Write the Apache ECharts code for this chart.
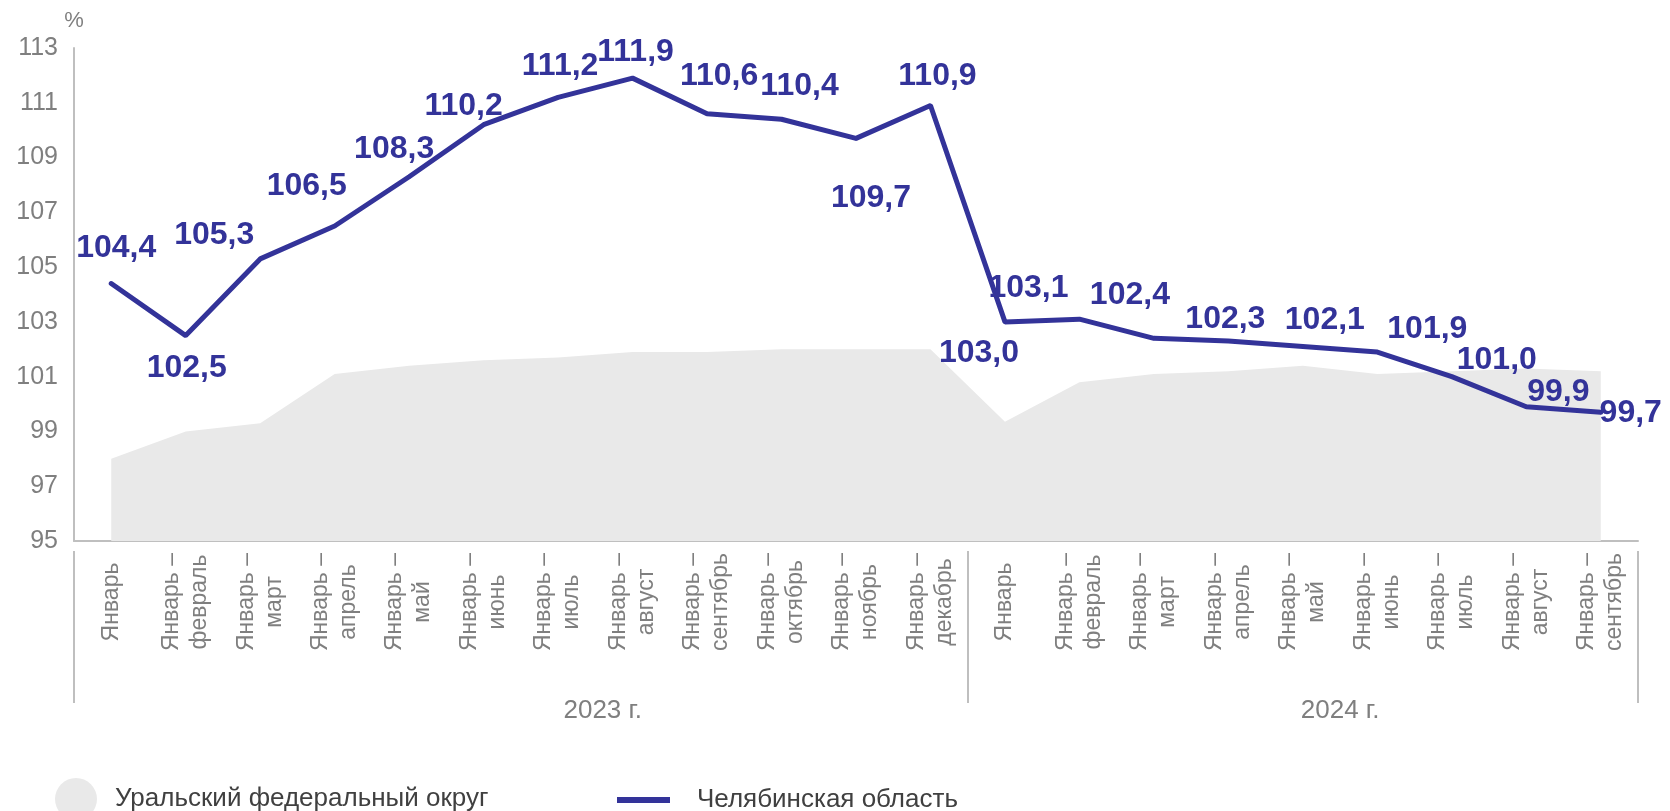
<!DOCTYPE html>
<html>
<head>
<meta charset="utf-8">
<script src="https://cdn.jsdelivr.net/npm/echarts@6.0.0/dist/echarts.min.js"></script>
<style>
  html, body { margin: 0; padding: 0; background: #fff; }
  #chart { width: 1670px; height: 811px; }
</style>
</head>
<body>
<div id="chart"></div>
<script>
// подписи периодов
const months = [
  'Январь', 'Январь –\nфевраль', 'Январь –\nмарт', 'Январь –\nапрель', 'Январь –\nмай', 'Январь –\nиюнь',
  'Январь –\nиюль', 'Январь –\nавгуст', 'Январь –\nсентябрь', 'Январь –\nоктябрь', 'Январь –\nноябрь', 'Январь –\nдекабрь',
  'Январь', 'Январь –\nфевраль', 'Январь –\nмарт', 'Январь –\nапрель', 'Январь –\nмай', 'Январь –\nиюнь',
  'Январь –\nиюль', 'Январь –\nавгуст', 'Январь –\nсентябрь'
]
const years = ['2023 г.', '2024 г.']
const yearBounds = [0, 12, 21] // границы групп по категориям
const yearLabelAt = [7.1, 17.0]

const ufoValues = [98.0, 99.0, 99.3, 101.1, 101.4, 101.6, 101.7, 101.9, 101.9, 102.0, 102.0, 102.0,
  99.35, 100.8, 101.1, 101.2, 101.4, 101.1, 101.2, 101.3, 101.2]
const chelValues = [104.4, 102.5, 105.3, 106.5, 108.3, 110.2, 111.2, 111.9, 110.6, 110.4, 109.7, 110.9,
  103.0, 103.1, 102.4, 102.3, 102.1, 101.9, 101.0, 99.9, 99.7]

// сдвиг подписей значений относительно точки
const labelShift = [
  [5, -35], [1, 33], [-46, -24], [-28, -40], [-15, -28], [-20, -19], [2, -31], [3, -26],
  [12, -38], [18, -33], [15, 60], [7, -29],
  [-26, 31], [-51, -31], [-24, -43], [-3, -22], [22, -26], [50, -23], [45, -16], [32, -15], [30, 1]
]

const lineColor = '#333399'
const grey = '#7f7f7f'
const axisGrey = '#bfbfbf'

const chart = echarts.init(document.getElementById('chart'))

const chelData = chelValues.map((v, i) => ({
  value: v,
  label: { offset: labelShift[i] }
}))

chart.setOption({
  animation: false,
  textStyle: { fontFamily: 'Liberation Sans, Arial, sans-serif' },
  grid: {
    left: 74,
    right: 32,
    top: 48,
    bottom: 270
  },
  legend: [{
    data: ['Уральский федеральный округ'],
    left: 50,
    top: 773,
    icon: 'circle',
    itemWidth: 42,
    itemHeight: 42,
    textStyle: { fontSize: 26, color: '#404040', padding: [0, 0, 0, 13] }
  }, {
    data: ['Челябинская область'],
    left: 612,
    top: 782,
    icon: 'rect',
    itemWidth: 53,
    itemHeight: 6,
    textStyle: { fontSize: 26, color: '#404040', padding: [0, 0, 0, 22] }
  }],
  xAxis: [{
    type: 'category',
    data: months,
    boundaryGap: true,
    axisLine: { lineStyle: { color: axisGrey, width: 2 } },
    axisTick: { show: false },
    axisLabel: {
      interval: 0,
      rotate: 90,
      align: 'center',
      verticalAlign: 'middle',
      margin: 61,
      color: grey,
      fontSize: 23,
      lineHeight: 28
    }
  }, {
    // второй уровень подписей: годы
    type: 'value',
    min: 0,
    max: 21,
    position: 'bottom',
    offset: 10,
    axisLine: { show: false },
    splitLine: { show: false },
    axisTick: {
      show: true,
      customValues: yearBounds,
      length: 152,
      lineStyle: { color: axisGrey, width: 2 }
    },
    axisLabel: {
      customValues: yearLabelAt,
      margin: 147,
      color: grey,
      fontSize: 26,
      formatter: function(v) {
        return years[yearLabelAt.indexOf(v)]
      }
    }
  }],
  yAxis: {
    type: 'value',
    min: 95,
    max: 113,
    interval: 2,
    name: '%',
    nameLocation: 'end',
    nameGap: 16,
    nameTextStyle: { color: grey, fontSize: 22, align: 'center' },
    axisLine: { show: true, lineStyle: { color: axisGrey, width: 2 } },
    axisTick: { show: false },
    splitLine: { show: false },
    axisLabel: { color: grey, fontSize: 25, margin: 16 }
  },
  series: [{
    name: 'Уральский федеральный округ',
    type: 'line',
    data: ufoValues,
    symbol: 'none',
    lineStyle: { width: 0 },
    itemStyle: { color: '#e9e9e9' },
    areaStyle: { color: '#e9e9e9', opacity: 1, origin: 'start' },
    z: 1
  }, {
    name: 'Челябинская область',
    type: 'line',
    data: chelData,
    symbol: 'circle',
    symbolSize: 4,
    itemStyle: { color: lineColor },
    lineStyle: { color: lineColor, width: 5, cap: 'round' },
    label: {
      show: true,
      position: 'inside',
      color: lineColor,
      fontSize: 32,
      fontWeight: 'bold',
      formatter: function(p) {
        return p.value.toFixed(1).replace('.', ',')
      }
    },
    z: 3
  }]
})
</script>
</body>
</html>
